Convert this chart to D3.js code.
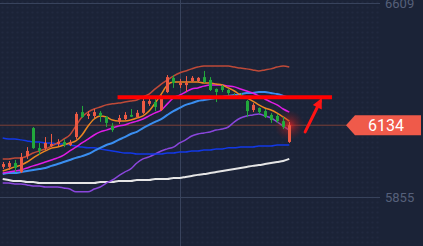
<!DOCTYPE html>
<html><head><meta charset="utf-8">
<script src="https://cdn.jsdelivr.net/npm/d3@7/dist/d3.min.js"></script>
<style>html,body{margin:0;padding:0;background:#1b2337;overflow:hidden}</style>
</head><body><svg id="c" width="423" height="246"></svg>
<script>
// ---- data ----
const open  = [5972,5972,5987,5952,6014,6123,6045,6045,6053,6061,6069,6057,6088,6185,6170,6170,6182,6166,6131,6147,6158,6174,6166,6182,6217,6224,6193,6263,6318,6290,6290,6306,6306,6321,6310,6275,6286,6271,6251,6251,6228,6193,6201,6189,6174,6170,6150,6069];
const high  = [5991,5995,5999,6026,6049,6127,6065,6088,6100,6080,6080,6077,6185,6209,6189,6197,6189,6170,6143,6174,6185,6197,6193,6236,6240,6236,6251,6329,6329,6314,6325,6325,6321,6345,6321,6277,6290,6275,6259,6259,6232,6220,6203,6197,6181,6178,6166,6147];
const low   = [5964,5960,5952,5948,6003,6042,6018,6038,6049,6053,6049,6053,6080,6162,6158,6162,6147,6127,6108,6139,6154,6166,6162,6178,6209,6189,6189,6259,6279,6279,6263,6302,6302,6298,6267,6224,6263,6251,6240,6236,6166,6185,6178,6162,6143,6143,6119,6065];
const close = [5983,5987,5968,6010,6034,6045,6034,6065,6061,6069,6057,6069,6178,6166,6178,6185,6170,6143,6115,6162,6174,6167,6182,6228,6228,6205,6244,6321,6298,6298,6298,6318,6318,6302,6271,6263,6271,6259,6244,6244,6189,6213,6185,6166,6154,6150,6127,6134];
const bollUpper = [6003,6003,6007,6007,6014,6026,6034,6042,6053,6065,6080,6096,6131,6166,6185,6197,6205,6213,6217,6220,6224,6228,6232,6244,6255,6275,6294,6310,6325,6337,6345,6353,6360,6364,6364,6364,6364,6364,6360,6356,6353,6349,6345,6349,6353,6360,6364,6360];
const bollLower = [5909,5909,5906,5906,5902,5898,5898,5894,5894,5894,5890,5886,5875,5875,5875,5886,5894,5909,5921,5937,5952,5964,5987,6003,6011,6022,6034,6042,6049,6065,6077,6092,6100,6104,6108,6115,6119,6127,6147,6162,6170,6174,6178,6170,6162,6147,6131,6115];
const maOrange  = [5956,5964,5972,5979,5991,6007,6022,6034,6045,6049,6057,6065,6073,6096,6131,6158,6170,6166,6154,6150,6150,6154,6162,6170,6189,6220,6255,6290,6302,6302,6302,6302,6302,6298,6298,6294,6290,6279,6267,6251,6240,6228,6213,6201,6193,6181,6166,6150];
const maMagenta = [5948,5952,5956,5960,5968,5976,5983,5991,5999,6007,6018,6034,6049,6065,6080,6096,6108,6115,6123,6131,6135,6143,6150,6158,6170,6182,6193,6217,6240,6251,6263,6275,6279,6286,6290,6290,6290,6286,6283,6275,6267,6259,6248,6236,6224,6213,6197,6185];
const maLightBlue = [5944,5948,5948,5952,5956,5960,5964,5968,5976,5983,5991,5999,6007,6014,6022,6034,6046,6057,6065,6077,6088,6100,6108,6123,6135,6147,6158,6174,6189,6201,6213,6220,6228,6232,6236,6240,6244,6248,6251,6255,6259,6259,6263,6263,6259,6255,6248,6240];
const maDarkBlue = [6084,6080,6080,6077,6073,6069,6069,6065,6065,6061,6061,6057,6053,6049,6046,6046,6042,6038,6034,6030,6026,6026,6022,6022,6022,6022,6022,6026,6026,6030,6030,6034,6034,6038,6038,6042,6042,6046,6046,6049,6049,6049,6053,6053,6053,6057,6057,6057];
const maWhite = [5925,5921,5917,5917,5913,5913,5909,5909,5909,5909,5909,5909,5909,5909,5909,5909,5913,5913,5913,5917,5917,5917,5921,5921,5921,5925,5925,5925,5929,5929,5933,5937,5941,5944,5948,5952,5956,5960,5964,5968,5972,5976,5979,5983,5987,5991,5995,6003];
const axisTicks = [6609, 5855];
const axisTickLabels = ["6609", "5855"];
const lastPrice = 6134;
const lastPriceLabel = "6134";
const resistance = 6243;          // thick red horizontal line level
const resistanceFrom = 19, resistanceTo = 54;  // candle index span
const arrowFrom = {i: 49.6, p: 6108}, arrowTo = {i: 52.1, p: 6228};
const vGridIndex = 29;

// ---- scales ----
const W = 423, H = 246;
const x = d3.scaleLinear().domain([0, 47]).range([2.7, 289.3]);
const y = d3.scaleLinear().domain([5855, 6609]).range([197, 3]);
const svg = d3.select("#c");
const defs = svg.append("defs");

// background dot texture
const pat = defs.append("pattern").attr("id","dots").attr("width",5).attr("height",5).attr("patternUnits","userSpaceOnUse");
pat.append("circle").attr("cx",2.5).attr("cy",2.5).attr("r",1.1).attr("fill","#222b42");
svg.append("rect").attr("width",W).attr("height",H).attr("fill","#1b2337");
svg.append("rect").attr("x",0).attr("y",0).attr("width",380).attr("height",H).attr("fill","url(#dots)").attr("opacity",0.8);

// glow
const rg = defs.append("radialGradient").attr("id","glow");
rg.append("stop").attr("offset","0%").attr("stop-color","#ff2020").attr("stop-opacity",0.75);
rg.append("stop").attr("offset","45%").attr("stop-color","#c02020").attr("stop-opacity",0.35);
rg.append("stop").attr("offset","100%").attr("stop-color","#801818").attr("stop-opacity",0);

// grid lines
const gridColor = "#38435c";
axisTicks.forEach(t => {
  svg.append("line").attr("x1",0).attr("x2",380).attr("y1",Math.round(y(t))+0.5).attr("y2",Math.round(y(t))+0.5)
    .attr("stroke",gridColor).attr("stroke-width",1);
});
svg.append("line").attr("x1",Math.round(x(vGridIndex))+0.5).attr("x2",Math.round(x(vGridIndex))+0.5).attr("y1",0).attr("y2",H)
  .attr("stroke",gridColor).attr("stroke-width",1);

// axis labels
svg.selectAll("text.tick").data(axisTicks).enter().append("text").attr("class","tick")
  .attr("x",385).attr("y",d=>y(d)).attr("dy","0.36em")
  .attr("font-family","Roboto, 'DejaVu Sans', sans-serif").attr("font-size",13).attr("fill","#56607a")
  .text((d,i)=>axisTickLabels[i]);

// last price line
svg.append("line").attr("x1",0).attr("x2",347).attr("y1",y(lastPrice)).attr("y2",y(lastPrice))
  .attr("stroke","#7c4038").attr("stroke-width",1);

// lines
const line = d3.line().x((d,i)=>x(i)).y(d=>y(d)).curve(d3.curveMonotoneX);
const series = [
  [maWhite, "#e6e6e6", 2],
  [bollLower, "#8a46dc", 1.5],
  [maDarkBlue, "#1238e6", 1.5],
  [maLightBlue, "#3a8ef0", 2],
  [maMagenta, "#e01ce6", 1.5],
  [maOrange, "#ec8620", 1.5],
  [bollUpper, "#bf4a38", 1.5]
];
series.forEach(([d,c,w]) => {
  svg.append("path").datum(d).attr("d",line).attr("fill","none").attr("stroke",c).attr("stroke-width",w);
});

// glow behind last candle
svg.append("circle").attr("cx",x(47)).attr("cy",y(lastPrice)).attr("r",15).attr("fill","url(#glow)");

// candles
const up = "#ec5a44", down = "#22a83c";
const cg = svg.append("g");
open.forEach((o,i) => {
  const c = close[i], col = c >= o ? up : down;
  const cx = Math.round(x(i)) + 0.5;
  cg.append("line").attr("x1",cx).attr("x2",cx).attr("y1",y(high[i])).attr("y2",y(low[i])).attr("stroke",col).attr("stroke-width",1);
  const top = y(Math.max(o,c)), bot = y(Math.min(o,c));
  cg.append("rect").attr("x",cx-1.5).attr("y",top).attr("width",3).attr("height",Math.max(1,bot-top)).attr("fill",col);
});

// thick red resistance line
svg.append("line").attr("x1",x(resistanceFrom)-1).attr("x2",x(resistanceTo)).attr("y1",y(resistance)).attr("y2",y(resistance))
  .attr("stroke","#ff0000").attr("stroke-width",4);

// red arrow
const ax1 = x(arrowFrom.i), ay1 = y(arrowFrom.p), ax2 = x(arrowTo.i), ay2 = y(arrowTo.p);
svg.append("line").attr("x1",ax1).attr("y1",ay1).attr("x2",ax2).attr("y2",ay2).attr("stroke","#ff1414").attr("stroke-width",3).attr("stroke-linecap","round");
const ang = Math.atan2(ay2-ay1, ax2-ax1);
const hl = 10, hw = 5;
const tip = [ax2 + Math.cos(ang)*3, ay2 + Math.sin(ang)*3];
const b = [tip[0]-Math.cos(ang)*hl, tip[1]-Math.sin(ang)*hl];
svg.append("polygon").attr("points",[
  tip, [b[0]+Math.sin(ang)*hw, b[1]-Math.cos(ang)*hw], [b[0]-Math.sin(ang)*hw, b[1]+Math.cos(ang)*hw]
].map(p=>p.join(",")).join(" ")).attr("fill","#ff1414");

// price label
const ly = y(lastPrice);
svg.append("polygon").attr("points",[[346,ly],[355,ly-10],[421,ly-10],[421,ly+10],[355,ly+10]].map(p=>p.join(",")).join(" "))
  .attr("fill","#ef5a4a");
svg.append("text").attr("x",386).attr("y",ly).attr("dy","0.36em").attr("text-anchor","middle")
  .attr("font-family","Roboto, 'DejaVu Sans', sans-serif").attr("font-size",16).attr("fill","#ffffff").text(lastPriceLabel);
</script></body></html>
